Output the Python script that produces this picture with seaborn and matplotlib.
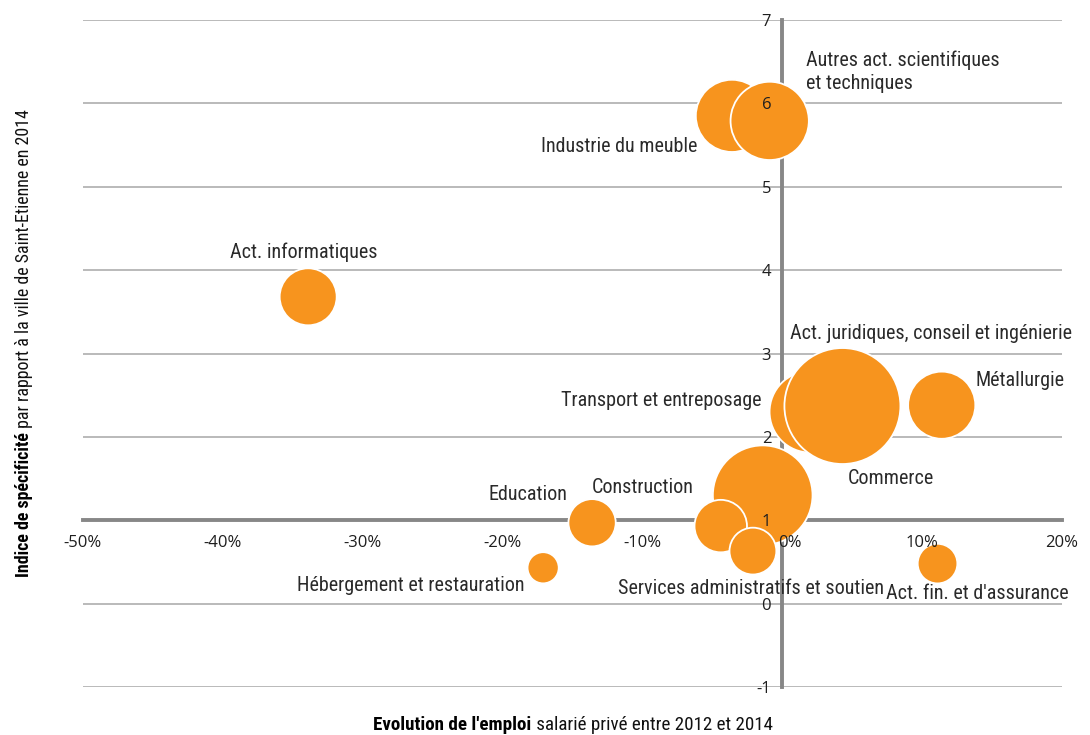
import matplotlib
matplotlib.use("Agg")
import matplotlib.pyplot as plt
import seaborn as sns
import pandas as pd
from matplotlib import font_manager as fm
from matplotlib.font_manager import FontProperties
from matplotlib.ticker import FuncFormatter
import matplotlib.transforms as mtrans

# ---------------- data ----------------
secteurs = [
    "Industrie du meuble",
    "Autres act. scientifiques\net techniques",
    "Act. informatiques",
    "Transport et entreposage",
    "Commerce",
    "Métallurgie",
    "Act. juridiques, conseil et ingénierie",
    "Construction",
    "Services administratifs et soutien",
    "Education",
    "Hébergement et restauration",
    "Act. fin. et d'assurance",
]
evolution = [-3.6, -0.9, -33.9, 2.0, 4.3, 11.4, -1.4, -4.4, -2.1, -13.6, -17.1, 11.1]   # %
indice = [5.85, 5.79, 3.68, 2.30, 2.37, 2.38, 1.30, 0.93, 0.63, 0.97, 0.43, 0.48]
effectif = [1260, 1480, 785, 1600, 3250, 1090, 2400, 665, 530, 540, 235, 380]

x_ticks = [-50, -40, -30, -20, -10, 0, 10, 20]
y_ticks = [-1, 0, 1, 2, 3, 4, 5, 6, 7]

# label layout: offsets in pixels from bubble centre (dx right, dy up), alignment
label_dx = [-35, 36, -4, -49, 48, 34, 27, -78, -2, -64, -19, -52]
label_dy = [-31, 49, 45, 11, -72, 25, 162, 39, -37, 28, -18, -30]
label_ha = ["right", "left", "center", "right", "center", "left", "left",
            "center", "center", "center", "right", "left"]

ORANGE = "#F7941E"

# ---------------- fonts ----------------
sns.set_theme(style="white")
names = {f.name for f in fm.fontManager.ttflist}
dejavu_cond = any(f.name == "DejaVu Sans" and f.stretch == "condensed" for f in fm.fontManager.ttflist)

def cond_font(size, weight="normal"):
    if "Roboto Condensed" in names:
        return FontProperties(family="Roboto Condensed", size=size, weight=weight)
    if "Liberation Sans Narrow" in names:
        return FontProperties(family="Liberation Sans Narrow", size=size, weight=weight)
    if dejavu_cond:
        return FontProperties(family="DejaVu Sans", stretch="condensed", size=size, weight=weight)
    return FontProperties(family="Roboto", size=size, weight=weight)

tick_family = "Open Sans" if "Open Sans" in names else "DejaVu Sans"
plt.rcParams["font.family"] = [tick_family, "DejaVu Sans"]

W, H = 1090, 735
fig = plt.figure(figsize=(W / 100, H / 100), dpi=100)
ax = fig.add_axes([83 / W, 48 / H, 979 / W, 667 / H])

df = pd.DataFrame({"secteur": secteurs, "evolution": evolution,
                   "indice": indice, "effectif": effectif})

maxeff = max(effectif)
smax = (1.44 * 58) ** 2
sns.scatterplot(data=df, x="evolution", y="indice", size="effectif",
                sizes=(0, smax), size_norm=(0, maxeff), color=ORANGE,
                edgecolor="white", linewidth=1.3, alpha=1, legend=False,
                ax=ax, zorder=3)

ax.set_xlim(-50, 20)
ax.set_ylim(-1, 7)
ax.set_xticks(x_ticks)
ax.set_yticks(y_ticks)
ax.xaxis.set_major_formatter(FuncFormatter(lambda v, p: f"{int(v)}%"))
ax.yaxis.set_major_formatter(FuncFormatter(lambda v, p: f"{int(v)}"))

for yv in y_ticks:
    ax.axhline(yv, color="#b4b4b4", lw=1.3, zorder=1)

for s in ["top", "right"]:
    ax.spines[s].set_visible(False)
ax.spines["bottom"].set_position(("data", 1))
ax.spines["left"].set_position(("data", 0))
for s in ["bottom", "left"]:
    ax.spines[s].set_color("#878787")
    ax.spines[s].set_linewidth(2.8)
    ax.spines[s].set_zorder(2)

ax.tick_params(axis="both", length=0, labelsize=12, labelcolor="#1e1e1e")
ax.tick_params(axis="x", pad=10.5)
ax.tick_params(axis="y", pad=8)
ax.xaxis.set_zorder(5)
ax.yaxis.set_zorder(5)
ax.set_xlabel("")
ax.set_ylabel("")

# nudge the 0% label right, away from the vertical axis
for lab in ax.get_xticklabels():
    if lab.get_text() == "0%":
        lab.set_transform(lab.get_transform() + mtrans.ScaledTranslation(8 / 100, 0, fig.dpi_scale_trans))

# bubble labels
fp_lab = cond_font(14.5)
for name, xv, yv, dx, dy, ha in zip(secteurs, evolution, indice, label_dx, label_dy, label_ha):
    ax.annotate(name, (xv, yv), xytext=(dx * 0.72, dy * 0.72), textcoords="offset points",
                ha=ha, va="center", fontproperties=fp_lab, color="#2a2a2a",
                linespacing=1.28, zorder=6)

# axis titles with bold + regular parts
fig.canvas.draw()
rend = fig.canvas.get_renderer()

xb = "Evolution de l'emploi"
xr = " salarié privé entre 2012 et 2014"
tb = fig.text(0, 0, xb, fontproperties=cond_font(13.7, "bold"), color="black")
tr = fig.text(0, 0, xr, fontproperties=cond_font(13.7), color="#111111")
wb = tb.get_window_extent(rend).width
wr = tr.get_window_extent(rend).width
x0 = 573 - (wb + wr) / 2
ybase = H - 730
tb.set_position((x0 / W, ybase / H))
tr.set_position(((x0 + wb) / W, ybase / H))
tb.set_va("baseline"); tr.set_va("baseline")

yb = "Indice de spécificité"
yr = " par rapport à la ville de Saint-Etienne en 2014"
ub = fig.text(0, 0, yb, fontproperties=cond_font(12.9, "bold"), rotation=90,
              rotation_mode="anchor", ha="left", va="baseline", color="black")
ur = fig.text(0, 0, yr, fontproperties=cond_font(12.9), rotation=90,
              rotation_mode="anchor", ha="left", va="baseline", color="#111111")
hb = ub.get_window_extent(rend).height
hr = ur.get_window_extent(rend).height
y0 = (H - 343) - (hb + hr) / 2
xbase = 29
ub.set_position((xbase / W, y0 / H))
ur.set_position((xbase / W, (y0 + hb) / H))

fig.savefig("out.png", dpi=100)
